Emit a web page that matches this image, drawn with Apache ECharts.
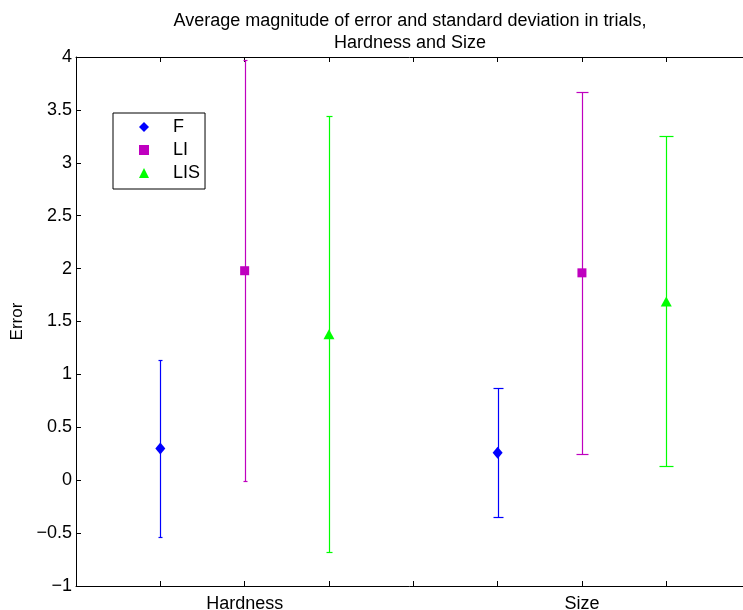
<!DOCTYPE html>
<html>
<head>
<meta charset="utf-8">
<script src="https://cdn.jsdelivr.net/npm/echarts@6/dist/echarts.min.js"></script>
<style>
  html, body { margin: 0; padding: 0; background: #fff; }
  #chart { width: 743px; height: 610px; }
</style>
</head>
<body>
<div id="chart"></div>
<script>
// group labels and where they sit on the x axis
const groups = ['Hardness', 'Size'];
const groupPos = [2, 6];

// mean error and standard deviation per group
const fMean = [0.30, 0.26];
const fStd = [0.84, 0.61];
const liMean = [1.98, 1.96];
const liStd = [1.99, 1.71];
const lisMean = [1.38, 1.69];
const lisStd = [2.06, 1.56];

// y axis: min, max, step
const yTicks = [-1, 4, 0.5];
// x axis runs past the right edge of the picture (figure is cropped)
const xRange = [0, 7.91];

const chart = echarts.init(document.getElementById('chart'));
const FONT = 'Liberation Sans, Arial, sans-serif';

const seriesDefs = [
  { name: 'F', mean: fMean, std: fStd, offset: -1, color: '#0000ff', symbol: 'diamond', size: [10, 12], cap: [2, 5] },
  { name: 'LI', mean: liMean, std: liStd, offset: 0, color: '#bf00bf', symbol: 'rect', size: 9, cap: [2, 6] },
  { name: 'LIS', mean: lisMean, std: lisStd, offset: 1, color: '#00ff00', symbol: 'triangle', size: [11, 10], cap: [3, 7] }
];

const series = [];
seriesDefs.forEach(function (d) {
  const bars = d.mean.map(function (m, i) {
    return [groupPos[i] + d.offset, m - d.std[i], m + d.std[i]];
  });
  series.push({
    name: d.name + '_err',
    type: 'custom',
    silent: true,
    itemStyle: { color: d.color },
    data: bars,
    renderItem: function (params, api) {
      const x = api.value(0);
      const top = api.coord([x, api.value(2)]);
      const bot = api.coord([x, api.value(1)]);
      const px = Math.round(top[0]) + 0.5;
      const h = d.cap[params.dataIndex];
      const ty = Math.round(top[1]) + 0.5, by = Math.round(bot[1]) + 0.5;
      function seg(x1, y1, x2, y2) {
        return {
          type: 'line',
          shape: { x1: x1, y1: y1, x2: x2, y2: y2 },
          style: { stroke: d.color, lineWidth: 1.2 }
        };
      }
      return {
        type: 'group',
        children: [
          seg(px, ty, px, by),
          seg(px - h, ty, px + h, ty),
          seg(px - h, by, px + h, by)
        ]
      };
    },
    z: 2
  });
  series.push({
    name: d.name,
    type: 'scatter',
    symbol: d.symbol,
    symbolSize: d.size,
    itemStyle: { color: d.color, opacity: 1 },
    data: d.mean.map(function (m, i) { return [groupPos[i] + d.offset, m]; }),
    z: 3
  });
});

const tickStyle = { inside: true, length: 5, lineStyle: { color: '#000' } };

const option = {
  animation: false,
  backgroundColor: '#fff',
  textStyle: { fontFamily: FONT },
  title: {
    text: 'Average magnitude of error and standard deviation in trials,\nHardness and Size',
    left: 405,
    top: 5,
    textAlign: 'center',
    textStyle: { fontSize: 18, fontWeight: 'normal', color: '#000', lineHeight: 22, fontFamily: FONT }
  },
  legend: {
    data: seriesDefs.map(function (d) { return d.name; }),
    orient: 'vertical',
    left: 113,
    top: 113,
    padding: [5, 5, 7, 26],
    itemGap: 5,
    itemWidth: 10,
    itemHeight: 10,
    borderColor: '#000',
    borderWidth: 1,
    borderRadius: 0,
    backgroundColor: '#fff',
    textStyle: { fontSize: 18, color: '#000', padding: [0, 0, 0, 19], fontFamily: FONT }
  },
  grid: { left: 76, right: 0, top: 57, bottom: 24, outerBoundsMode: 'none', containLabel: false },
  xAxis: [
    {
      type: 'value',
      min: xRange[0],
      max: xRange[1],
      interval: 1,
      splitLine: { show: false },
      axisLine: { onZero: false, lineStyle: { color: '#000', width: 1 } },
      axisTick: tickStyle,
      axisLabel: {
        color: '#000',
        fontSize: 18,
        margin: 9,
        formatter: function (v) {
          const i = groupPos.indexOf(v);
          return i >= 0 ? groups[i] : '';
        }
      }
    },
    {
      type: 'value',
      position: 'top',
      min: xRange[0],
      max: xRange[1],
      interval: 1,
      splitLine: { show: false },
      axisLine: { onZero: false, lineStyle: { color: '#000', width: 1 } },
      axisTick: tickStyle,
      axisLabel: { show: false }
    }
  ],
  yAxis: {
    type: 'value',
    min: yTicks[0],
    max: yTicks[1],
    interval: yTicks[2],
    name: 'Error',
    nameLocation: 'middle',
    nameGap: 50,
    nameTextStyle: { fontSize: 17, color: '#000', fontFamily: FONT },
    splitLine: { show: false },
    axisLine: { show: true, onZero: false, lineStyle: { color: '#000', width: 1 } },
    axisTick: tickStyle,
    axisLabel: {
      color: '#000',
      fontSize: 18,
      margin: 4,
      formatter: function (v) { return String(v).replace('-', '\u2212'); }
    }
  },
  series: series
};

chart.setOption(option);
</script>
</body>
</html>
